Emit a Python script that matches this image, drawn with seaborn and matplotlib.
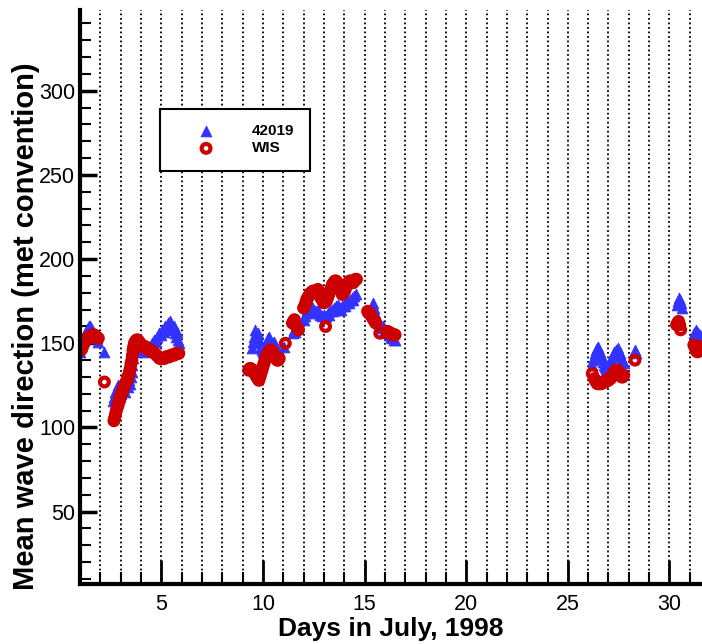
import matplotlib
matplotlib.use('Agg')
import matplotlib.pyplot as plt
import seaborn as sns
from matplotlib.ticker import MultipleLocator

# buoy 42019 mean wave direction (day of July, degrees)
buoy_day = [1.0, 1.05, 1.1, 1.15, 1.2, 1.25, 1.3, 1.35, 1.4, 1.45, 1.5, 1.55, 1.6, 1.65, 1.7, 1.75, 1.8, 1.85, 1.9,
            2.2,
            2.6, 2.65, 2.7, 2.75, 2.8, 2.85, 2.9, 2.95, 3.0, 3.05, 3.1, 3.15, 3.2, 3.25, 3.3, 3.35, 3.4, 3.45, 3.5, 3.55, 3.58, 3.62, 3.66,
            3.75, 3.85, 3.95, 4.05, 4.15, 4.25, 4.35, 4.45, 4.55, 4.65, 4.75, 4.8, 4.9, 5.0, 5.05, 5.15, 5.2, 5.3, 5.35, 5.45, 5.5, 5.55, 5.6, 5.65, 5.7, 5.75, 5.8, 5.85,
            9.45, 9.5, 9.55, 9.6, 9.65, 9.7, 9.75, 9.8, 9.85, 9.9, 9.95, 10.0, 10.05, 10.1, 10.15, 10.2, 10.25, 10.3, 10.35, 10.4, 10.45, 10.5, 10.55, 10.6, 10.65, 10.7, 10.8,
            11.05, 11.5, 11.55, 11.6, 11.7,
            12.0, 12.05, 12.1, 12.15, 12.2, 12.3, 12.35, 12.4, 12.5, 12.55, 12.6, 12.7, 12.75, 12.8, 12.9, 13.0, 13.05, 13.1, 13.2, 13.25,
            13.3, 13.4, 13.45, 13.5, 13.6, 13.65, 13.7, 13.8, 13.85, 13.9, 14.0, 14.05, 14.1, 14.2, 14.25, 14.3, 14.4, 14.45, 14.5, 14.6,
            15.3, 15.35, 15.4, 15.45, 15.5, 15.55, 15.6, 15.7, 15.75, 15.85, 15.9, 16.0, 16.05, 16.15, 16.2, 16.3, 16.35, 16.45, 16.5,
            26.2, 26.25, 26.3, 26.35, 26.4, 26.45, 26.5, 26.55, 26.6, 26.65, 26.7, 26.75, 26.8, 26.85, 26.9, 26.95,
            27.0, 27.05, 27.1, 27.15, 27.2, 27.25, 27.35, 27.45, 27.5, 27.55, 27.6, 27.65, 27.7, 27.75, 28.3, 28.35,
            30.35, 30.4, 30.45, 30.5, 30.55, 30.6, 31.2, 31.25, 31.3, 31.35, 31.4, 31.5, 31.55]
buoy_dir = [145, 148, 150, 152, 154, 156, 157, 158, 159, 160, 160, 159, 158, 157, 156, 155, 154, 153, 151,
            145,
            116, 118, 121, 119, 123, 125, 122, 118, 120, 123, 126, 124, 121, 125, 127, 124, 128, 126, 130, 133, 137, 141, 145,
            149, 148, 147, 146, 146, 145, 146, 148, 150, 152, 151, 154, 156, 155, 158, 157, 160, 159, 162, 163, 161, 158, 160, 156, 154, 157, 152, 150,
            147, 151, 154, 158, 156, 154, 156, 152, 150, 148, 146, 145, 147, 149, 148, 151, 153, 154, 152, 150, 148, 150, 151, 149, 147, 146, 145,
            148, 156, 158, 157, 159,
            164, 166, 168, 170, 171, 172, 173, 171, 170, 168, 169, 170, 168, 167, 166, 167, 165, 166, 168, 167,
            169, 170, 169, 171, 172, 170, 173, 171, 170, 172, 173, 172, 174, 175, 174, 176, 177, 176, 178, 179,
            170, 172, 174, 171, 168, 166, 165, 162, 161, 159, 160, 158, 157, 156, 155, 154, 153, 152, 152,
            137, 140, 142, 144, 146, 147, 148, 146, 145, 143, 141, 139, 137, 136, 135, 136,
            137, 139, 140, 142, 143, 145, 146, 147, 145, 144, 142, 140, 139, 138, 146, 144,
            173, 175, 177, 176, 174, 171, 156, 157, 158, 157, 156, 155, 154]

# WIS hindcast mean wave direction
wis_day = [1.0, 1.05, 1.1, 1.15, 1.2, 1.25, 1.3, 1.35, 1.4, 1.45, 1.5, 1.55, 1.6, 1.65, 1.7, 1.75, 1.8, 1.85, 1.9,
           2.2,
           2.67, 2.71, 2.75, 2.79, 2.83, 2.87, 2.91, 2.95, 2.99, 3.03, 3.07, 3.11, 3.15, 3.19, 3.23, 3.27, 3.31, 3.35, 3.39, 3.43,
           3.47, 3.51, 3.55, 3.58, 3.61, 3.64, 3.68, 3.72, 3.78, 3.84, 3.9, 3.96, 4.02, 4.08, 4.15, 4.22, 4.3, 4.38, 4.45, 4.52,
           4.6, 4.68, 4.76, 4.84, 4.92, 5.0, 5.08, 5.16, 5.24, 5.32, 5.4, 5.48, 5.56, 5.64, 5.72, 5.8, 5.86,
           9.3, 9.35, 9.4, 9.45, 9.5, 9.55, 9.6, 9.65, 9.7, 9.75, 9.8, 9.85, 9.9, 9.95, 10.0, 10.05, 10.1, 10.15, 10.2, 10.25,
           10.3, 10.35, 10.4, 10.45, 10.5, 10.55, 10.6, 10.65, 10.7, 10.75, 10.8,
           11.1, 11.45, 11.5, 11.55, 11.6, 11.65, 11.7, 11.75,
           12.0, 12.05, 12.1, 12.15, 12.2, 12.25, 12.3, 12.35, 12.4, 12.45, 12.5, 12.55, 12.6, 12.65, 12.7, 12.75, 12.8, 12.85,
           12.9, 12.95, 13.0, 13.08, 13.12, 13.18, 13.24, 13.3, 13.36, 13.42, 13.48, 13.54, 13.6, 13.66, 13.72, 13.78, 13.84,
           13.9, 13.96, 14.02, 14.08, 14.14, 14.2, 14.26, 14.32, 14.38, 14.44, 14.5, 14.56, 14.6,
           15.15, 15.2, 15.25, 15.3, 15.35, 15.4, 15.45, 15.5, 15.55, 15.75, 16.1, 16.15, 16.2, 16.25, 16.3, 16.35, 16.4, 16.45, 16.5,
           26.2, 26.3, 26.35, 26.4, 26.45, 26.5, 26.55, 26.6, 26.65, 26.7, 26.75, 26.8, 26.85, 26.9, 26.95, 27.0,
           27.05, 27.1, 27.15, 27.2, 27.25, 27.3, 27.35, 27.4, 27.45, 27.5, 27.55, 27.6, 27.65, 27.7, 27.75, 28.3,
           30.35, 30.4, 30.45, 30.5, 30.55, 31.2, 31.25, 31.3, 31.35, 31.4, 31.45, 31.5, 31.55]
wis_dir = [148, 146, 147, 149, 150, 151, 152, 153, 153, 154, 154, 154, 155, 155, 155, 154, 154, 153, 153,
           127,
           104, 106, 108, 110, 112, 113, 115, 117, 118, 120, 121, 122, 124, 125, 126, 127, 128, 130, 131, 133,
           135, 138, 140, 143, 146, 148, 150, 151, 152, 152, 151, 150, 149, 148, 148, 148, 147, 146, 146, 145,
           145, 144, 143, 142, 141, 141, 141, 141, 142, 142, 142, 143, 143, 143, 144, 144, 144,
           134, 135, 135, 134, 134, 133, 132, 131, 130, 129, 128, 130, 132, 134, 136, 138, 140, 142, 143, 144,
           145, 146, 146, 145, 144, 143, 142, 141, 140, 140, 141,
           150, 162, 163, 164, 161, 160, 159, 158,
           171, 172, 174, 176, 177, 178, 179, 180, 180, 181, 181, 180, 180, 181, 182, 181, 179, 177,
           176, 175, 174, 160, 175, 177, 179, 181, 183, 185, 186, 187, 187, 186, 185, 183, 181,
           179, 180, 181, 183, 185, 186, 187, 187, 186, 186, 187, 188, 188,
           169, 168, 168, 167, 166, 165, 164, 163, 162, 156, 157, 157, 156, 156, 156, 155, 155, 155, 155,
           132, 129, 128, 127, 126, 126, 126, 126, 126, 127, 127, 127, 127, 128, 128, 128,
           129, 129, 130, 131, 132, 133, 134, 134, 134, 133, 132, 131, 130, 130, 131, 140,
           161, 162, 163, 161, 158, 149, 148, 146, 145, 145, 146, 147, 148]

sns.set_style('ticks')
plt.rcParams['font.family'] = ['Liberation Sans', 'DejaVu Sans']
for key in ['text.color', 'axes.labelcolor', 'xtick.color', 'ytick.color']:
    plt.rcParams[key] = 'k'

fig = plt.figure(figsize=(7.02, 6.44), dpi=100)
ax = fig.add_axes([80 / 702, 60 / 644, 622 / 702, 574 / 644])

sns.scatterplot(x=buoy_day, y=buoy_dir, marker='^', s=60, color='#3333ff',
                edgecolor='#3333ff', linewidth=0.6, label='42019', ax=ax)
sns.scatterplot(x=wis_day, y=wis_dir, marker='o', s=40, facecolor='none',
                edgecolor='#cc0000', linewidth=3.0, label='WIS', ax=ax)

ax.set_xlim(1, 31.6)
ax.set_ylim(7, 348)
ax.xaxis.set_major_locator(MultipleLocator(5))
ax.xaxis.set_minor_locator(MultipleLocator(1))
ax.yaxis.set_major_locator(MultipleLocator(50))
ax.yaxis.set_minor_locator(MultipleLocator(10))

ax.set_axisbelow(True)
ax.grid(axis='x', which='both', color='k', linestyle=(0, (1, 1.5)), linewidth=1.3)

ax.tick_params(which='major', direction='in', length=12, width=2.5, labelsize=15.5)
ax.tick_params(which='minor', direction='in', length=8, width=1.5)
ax.tick_params(axis='x', which='major', length=17, width=2, pad=7)
ax.tick_params(axis='x', which='minor', length=9, width=1.5)

sns.despine(ax=ax)
for side in ['left', 'bottom']:
    ax.spines[side].set_linewidth(3)
    ax.spines[side].set_color('k')

ax.set_xlabel('Days in July, 1998', fontsize=19, fontweight='bold')
ax.set_ylabel('Mean wave direction (met convention)', fontsize=21, fontweight='bold')
ax.xaxis.set_label_coords(0.5, -0.057)
ax.yaxis.set_label_coords(-0.064, 0.449)

leg = ax.legend(loc='upper left', bbox_to_anchor=(0.129, 0.8275), borderaxespad=0,
                frameon=True, fancybox=False, edgecolor='k', framealpha=1,
                prop={'weight': 'bold', 'size': 11}, borderpad=1.0,
                handlelength=4.0, handletextpad=1.0, labelspacing=0.2)
leg.get_frame().set_linewidth(1.5)

fig.savefig('out.png', dpi=100)
